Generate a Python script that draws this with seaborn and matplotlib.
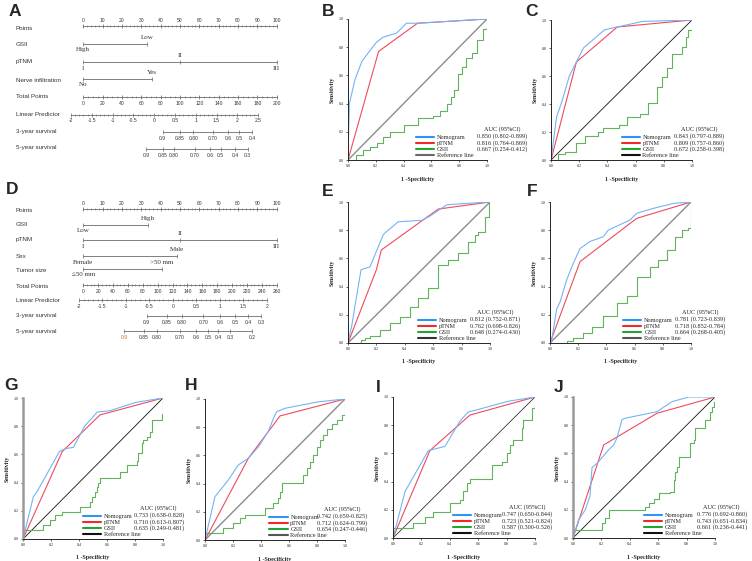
import matplotlib

matplotlib.use("Agg")
import matplotlib.pyplot as plt
from matplotlib.lines import Line2D
import numpy as np
import seaborn as sns

W, H = 752, 561

# ---------------- nomogram data ----------------
points_ticks = [0, 10, 20, 30, 40, 50, 60, 70, 80, 90, 100]

a_total_ticks = [0, 20, 40, 60, 80, 100, 120, 140, 160, 180, 200]
a_lp_labels = ["-2", "-1.5", "-1", "-0.5", "0", "0.5", "1", "1.5", "2", "2.5"]
a_lp_pts = [-6.4, 4.4, 15.1, 25.9, 36.6, 47.4, 58.2, 68.9, 79.7, 90.5]
a_s3_labels = ["0.9", "0.85", "0.80", "0.70", "0.6", "0.5", "0.4"]
a_s3_pts = [41.1, 50.0, 56.9, 66.9, 75.0, 80.7, 87.4]
a_s5_labels = ["0.9", "0.85", "0.80", "0.70", "0.6", "0.5", "0.4", "0.3"]
a_s5_pts = [32.4, 41.2, 46.9, 57.8, 65.5, 71.0, 78.4, 85.0]
a_vars = ["GSII", "pTNM", "Nerve infiltration"]
a_levels = [["High", "Low"], ["I", "II", "III"], ["No", "Yes"]]
a_level_pts = [[0, 32.9], [0, 50, 100], [0, 35.5]]

d_total_ticks = [0, 20, 40, 60, 80, 100, 120, 140, 160, 180, 200, 220, 240, 260]
d_lp_labels = ["-2", "-1.5", "-1", "-0.5", "0", "0.5", "1", "1.5", "2"]
d_lp_pts = [-2.2, 9.9, 22.0, 34.2, 46.3, 58.4, 70.6, 82.7, 94.8]
d_s3_labels = ["0.9", "0.85", "0.80", "0.70", "0.6", "0.5", "0.4", "0.3"]
d_s3_pts = [32.8, 43.1, 50.9, 62.0, 70.6, 78.4, 85.3, 91.9]
d_s5_labels = ["0.9", "0.85", "0.80", "0.70", "0.6", "0.5", "0.4", "0.3", "0.2"]
d_s5_pts = [21.0, 31.4, 38.1, 50.0, 58.3, 64.5, 69.6, 75.8, 87.3]
d_vars = ["GSII", "pTNM", "Sex", "Tumor size"]
d_levels = [["Low", "High"], ["I", "II", "III"], ["Female", "Male"], ["\u226450 mm", ">50 mm"]]
d_level_pts = [[0, 33.5], [0, 50, 100], [0, 48.4], [0, 40.7]]

# ---------------- ROC data ----------------
ref_line = [0.0, 1.0]
roc_names = ["Nomogram", "pTNM", "GSII", "Reference line"]

b_nomo_fpr = [0, 0.01, 0.05, 0.10, 0.20, 0.25, 0.35, 0.42, 0.50, 1.0]
b_nomo_tpr = [0, 0.40, 0.57, 0.70, 0.83, 0.87, 0.90, 0.97, 0.97, 1.0]
b_ptnm_fpr = [0, 0.22, 0.50, 1.0]
b_ptnm_tpr = [0, 0.77, 0.97, 1.0]
b_gsii_fpr = [0, 0.06, 0.11, 0.16, 0.21, 0.25, 0.30, 0.40, 0.50, 0.61, 0.66, 0.71, 0.74,
              0.76, 0.79, 0.82, 0.85, 0.89, 0.93, 0.97, 1.0]
b_gsii_tpr = [0, 0.035, 0.07, 0.09, 0.12, 0.16, 0.20, 0.25, 0.30, 0.31, 0.35, 0.40, 0.45,
              0.50, 0.61, 0.66, 0.72, 0.76, 0.85, 0.93, 1.0]
b_auc = ["0.850 (0.802-0.899)", "0.816 (0.764-0.869)", "0.667 (0.254-0.412)"]

c_nomo_fpr = [0, 0.04, 0.075, 0.13, 0.18, 0.23, 0.38, 0.47, 0.65, 1.0]
c_nomo_tpr = [0, 0.31, 0.41, 0.60, 0.70, 0.80, 0.93, 0.95, 0.99, 1.0]
c_ptnm_fpr = [0, 0.18, 0.47, 1.0]
c_ptnm_tpr = [0, 0.70, 0.95, 1.0]
c_gsii_fpr = [0, 0.05, 0.10, 0.18, 0.24, 0.33, 0.37, 0.48, 0.54, 0.63, 0.69, 0.75, 0.79,
              0.82, 0.86, 0.93, 0.96, 0.97, 1.0]
c_gsii_tpr = [0, 0.04, 0.06, 0.12, 0.17, 0.20, 0.23, 0.25, 0.31, 0.33, 0.41, 0.52, 0.59,
              0.66, 0.76, 0.81, 0.88, 0.93, 1.0]
c_auc = ["0.843 (0.797-0.889)", "0.809 (0.757-0.860)", "0.672 (0.258-0.398)"]

e_nomo_fpr = [0, 0.003, 0.026, 0.06, 0.092, 0.155, 0.249, 0.284, 0.354, 0.52, 0.577,
              0.636, 0.695, 0.835, 1.0]
e_nomo_tpr = [0, 0.02, 0.12, 0.33, 0.52, 0.54, 0.77, 0.80, 0.86, 0.87, 0.90,
              0.94, 0.98, 0.99, 1.0]
e_ptnm_fpr = [0, 0.20, 0.235, 0.636, 1.0]
e_ptnm_tpr = [0, 0.52, 0.66, 0.95, 1.0]
e_gsii_fpr = [0, 0.09, 0.12, 0.155, 0.225, 0.296, 0.366, 0.437, 0.495, 0.566, 0.636,
              0.707, 0.777, 0.847, 0.894, 0.918, 0.965, 0.99, 1.0]
e_gsii_tpr = [0, 0.02, 0.035, 0.047, 0.092, 0.14, 0.187, 0.258, 0.317, 0.388, 0.553,
              0.589, 0.636, 0.719, 0.766, 0.79, 0.896, 0.99, 1.0]
e_auc = ["0.812 (0.752-0.871)", "0.762 (0.698-0.826)", "0.648 (0.274-0.430)"]

f_nomo_fpr = [0, 0.012, 0.047, 0.071, 0.118, 0.165, 0.213, 0.284, 0.378, 0.414, 0.567,
              0.615, 0.733, 0.875, 1.0]
f_nomo_tpr = [0, 0.02, 0.24, 0.29, 0.447, 0.565, 0.67, 0.72, 0.754, 0.801, 0.872,
              0.92, 0.955, 0.99, 1.0]
f_ptnm_fpr = [0, 0.213, 0.615, 1.0]
f_ptnm_tpr = [0, 0.577, 0.884, 1.0]
f_gsii_fpr = [0, 0.12, 0.165, 0.236, 0.296, 0.378, 0.473, 0.544, 0.615, 0.71, 0.768,
              0.827, 0.887, 0.934, 0.98, 1.0]
f_gsii_tpr = [0, 0.015, 0.034, 0.07, 0.117, 0.188, 0.282, 0.33, 0.47, 0.54, 0.589,
              0.66, 0.754, 0.801, 0.813, 1.0]
f_auc = ["0.781 (0.723-0.839)", "0.718 (0.852-0.784)", "0.664 (0.268-0.405)"]

g_nomo_fpr = [0, 0.074, 0.10, 0.26, 0.30, 0.36, 0.44, 0.53, 0.62, 0.81, 1.0]
g_nomo_tpr = [0, 0.30, 0.335, 0.62, 0.64, 0.65, 0.80, 0.90, 0.91, 0.97, 1.0]
g_ptnm_fpr = [0, 0.28, 0.55, 1.0]
g_ptnm_tpr = [0, 0.62, 0.88, 1.0]
g_gsii_fpr = [0, 0, 0.145, 0.193, 0.229, 0.276, 0.407, 0.479, 0.49, 0.514, 0.526, 0.538,
              0.55, 0.693, 0.74, 0.812, 0.824, 0.848, 0.86, 0.883, 0.907, 0.919, 0.99, 1.0]
g_gsii_tpr = [0, 0.064, 0.10, 0.135, 0.17, 0.194, 0.23, 0.265, 0.30, 0.336, 0.371, 0.395,
              0.43, 0.478, 0.525, 0.55, 0.61, 0.68, 0.70, 0.726, 0.76, 0.844, 0.89, 1.0]
g_auc = ["0.733 (0.638-0.828)", "0.710 (0.613-0.807)", "0.635 (0.249-0.481)"]

h_nomo_fpr = [0, 0.071, 0.167, 0.238, 0.31, 0.381, 0.452, 0.488, 0.512, 0.571, 0.81, 1.0]
h_nomo_tpr = [0, 0.307, 0.426, 0.532, 0.58, 0.66, 0.77, 0.86, 0.91, 0.934, 0.98, 1.0]
h_ptnm_fpr = [0, 0.31, 0.536, 1.0]
h_ptnm_tpr = [0, 0.58, 0.88, 1.0]
h_gsii_fpr = [0, 0, 0.131, 0.202, 0.25, 0.286, 0.428, 0.488, 0.524, 0.536, 0.548, 0.702,
              0.726, 0.75, 0.774, 0.798, 0.821, 0.845, 0.869, 0.905, 0.94, 0.976, 1.0]
h_gsii_tpr = [0, 0.052, 0.083, 0.118, 0.154, 0.177, 0.225, 0.26, 0.30, 0.343, 0.402, 0.46,
              0.508, 0.556, 0.603, 0.66, 0.71, 0.745, 0.79, 0.82, 0.85, 0.887, 1.0]
h_auc = ["0.742 (0.659-0.825)", "0.712 (0.624-0.799)", "0.654 (0.247-0.446)"]

i_nomo_fpr = [0, 0.085, 0.249, 0.366, 0.472, 0.53, 0.577, 0.812, 1.0]
i_nomo_tpr = [0, 0.33, 0.62, 0.65, 0.83, 0.894, 0.905, 0.97, 1.0]
i_ptnm_fpr = [0, 0.26, 0.542, 1.0]
i_ptnm_tpr = [0, 0.62, 0.872, 1.0]
i_gsii_fpr = [0, 0, 0.143, 0.225, 0.284, 0.40, 0.472, 0.495, 0.519, 0.542, 0.695, 0.765,
              0.80, 0.824, 0.847, 0.906, 0.918, 0.976, 1.0]
i_gsii_tpr = [0, 0.068, 0.104, 0.15, 0.187, 0.245, 0.27, 0.33, 0.39, 0.42, 0.518, 0.54,
              0.60, 0.66, 0.695, 0.78, 0.837, 0.92, 1.0]
i_auc = ["0.747 (0.650-0.844)", "0.723 (0.521-0.824)", "0.587 (0.300-0.526)"]

j_nomo_fpr = [0, 0.04, 0.087, 0.12, 0.134, 0.17, 0.20, 0.25, 0.286, 0.31, 0.345, 0.37,
              0.592, 0.627, 0.697, 0.815, 1.0]
j_nomo_tpr = [0, 0.13, 0.20, 0.30, 0.50, 0.53, 0.565, 0.624, 0.66, 0.71, 0.84, 0.85,
              0.896, 0.92, 0.967, 1.0, 1.0]
j_ptnm_fpr = [0, 0.216, 0.592, 1.0]
j_ptnm_tpr = [0, 0.66, 0.885, 1.0]
j_gsii_fpr = [0, 0, 0.204, 0.228, 0.25, 0.51, 0.533, 0.568, 0.603, 0.685, 0.709, 0.72, 0.73,
              0.745, 0.827, 0.85, 0.862, 0.932, 0.967, 0.979, 0.99, 1.0]
j_gsii_tpr = [0, 0.06, 0.104, 0.139, 0.199, 0.22, 0.246, 0.28, 0.316, 0.328, 0.411, 0.47,
              0.506, 0.577, 0.671, 0.695, 0.778, 0.837, 0.896, 0.93, 0.965, 1.0]
j_auc = ["0.776 (0.692-0.860)", "0.743 (0.651-0.834)", "0.661 (0.236-0.441)"]

# ---------------- style ----------------
sns.set_theme(style="ticks")
SANS = ["Liberation Sans", "DejaVu Sans"]
SERIF = ["Liberation Serif", "DejaVu Serif"]
plt.rcParams["font.family"] = SERIF
plt.rcParams["axes.linewidth"] = 0.7

NLINE = "#6a6a6a"
NTXT = "#333333"
CURVE_COLORS = ["#74b4f2", "#ef4a5e", "#62b35c"]
LEG_COLORS = ["#2f95f0", "#f02a2a", "#22a532"]

PX0, PXS = 83.3, 1.934  # nomogram: pixel of 0 points, pixels per point


def px_rect(x0, y0, x1, y1):
    return [x0 / W, 1 - y1 / H, (x1 - x0) / W, (y1 - y0) / H]


def subdivide(pos, n):
    out = []
    for a, b in zip(pos[:-1], pos[1:]):
        out.extend(np.linspace(a, b, n + 1)[1:-1])
    return out


def tick_row(ax, y, pos, labels, dy, minor=None, colors=None):
    allpos = list(pos) + (list(minor) if minor is not None else [])
    ax.plot([min(allpos), max(allpos)], [y, y], color=NLINE, lw=0.6)
    ax.plot(pos, [y] * len(pos), ls="none", marker="|", ms=2.8, mew=0.5, color=NLINE)
    if minor is not None:
        ax.plot(minor, [y] * len(minor), ls="none", marker="|", ms=1.7, mew=0.4, color=NLINE)
    for i, (p, lab) in enumerate(zip(pos, labels)):
        c = colors[i] if colors else NTXT
        ax.text(p, y + dy, lab, ha="center", va="center", fontsize=3.6, family=SANS, color=c)


def draw_nomogram(ax, ylim, label_y, line_y, vars_, levels, level_pts, total_ticks,
                  lp_labels, lp_pts, s3_labels, s3_pts, s5_labels, s5_pts, s5_colors=None):
    ax.set_xlim(-PX0 / PXS, (300 - PX0) / PXS)
    ax.set_ylim(ylim[1], ylim[0])
    ax.axis("off")
    names = ["Points"] + vars_ + ["Total Points", "Linear Predictor",
                                  "3-year survival", "5-year survival"]
    for name, y in zip(names, label_y):
        ax.text((16 - PX0) / PXS, y, name, ha="left", va="center", fontsize=4.5,
                family=SANS, color=NTXT)

    tick_row(ax, line_y[0], points_ticks, [str(t) for t in points_ticks], -5.6,
             minor=list(range(0, 101, 2)))
    for k, (levs, pts) in enumerate(zip(levels, level_pts)):
        y = line_y[1 + k]
        ax.plot([pts[0], pts[-1]], [y, y], color=NLINE, lw=0.6)
        ax.plot(pts, [y] * len(pts), ls="none", marker="|", ms=2.8, mew=0.5, color=NLINE)
        for i, (p, lab) in enumerate(zip(pts, levs)):
            ax.text(p, y + (6.0 if i % 2 == 0 else -6.5), lab, ha="center", va="center",
                    fontsize=5.0, family=SERIF, color=NTXT)
    n = len(vars_)
    tot = np.array(total_ticks) * 100.0 / total_ticks[-1]
    tot_minor = np.arange(0, total_ticks[-1] + 1, 5) * 100.0 / total_ticks[-1]
    tick_row(ax, line_y[n + 1], tot, [str(t) for t in total_ticks], 6.5, minor=tot_minor)
    tick_row(ax, line_y[n + 2], lp_pts, lp_labels, 6.0, minor=subdivide(lp_pts, 5))
    tick_row(ax, line_y[n + 3], s3_pts, s3_labels, 6.0)
    tick_row(ax, line_y[n + 4], s5_pts, s5_labels, 6.5, colors=s5_colors)


def draw_roc(ax, nomo, ptnm, gsii, aucs, ref_color, ref_lw, leg_ref, leg_x, auc_dx,
             left_spine=None):
    sns.lineplot(x=ref_line, y=ref_line, ax=ax, color=ref_color, lw=ref_lw,
                 sort=False, estimator=None)
    sns.lineplot(x=gsii[0], y=gsii[1], ax=ax, color=CURVE_COLORS[2], lw=0.8,
                 drawstyle="steps-post", sort=False, estimator=None)
    sns.lineplot(x=ptnm[0], y=ptnm[1], ax=ax, color=CURVE_COLORS[1], lw=0.8,
                 sort=False, estimator=None)
    sns.lineplot(x=nomo[0], y=nomo[1], ax=ax, color=CURVE_COLORS[0], lw=0.8,
                 sort=False, estimator=None)
    ax.set_xlim(0, 1)
    ax.set_ylim(0, 1)
    ticks = [0.0, 0.2, 0.4, 0.6, 0.8, 1.0]
    ax.set_xticks(ticks)
    ax.set_yticks(ticks)
    ax.set_xticklabels([f"{t:.1f}" for t in ticks])
    ax.set_yticklabels([f"{t:.1f}" for t in ticks])
    ax.tick_params(labelsize=3.0, length=1.5, width=0.5, pad=1.5)
    sns.despine(ax=ax)
    ax.spines["left"].set_linewidth(0.7)
    ax.spines["bottom"].set_linewidth(0.7)
    if left_spine:
        ax.spines["left"].set_color(left_spine)
        ax.spines["left"].set_linewidth(1.8)
    ax.set_xlabel("1 -Specificity", fontsize=4.3, fontweight="bold", labelpad=6)
    ax.set_ylabel("Sensitivity", fontsize=4.3, fontweight="bold", labelpad=3)

    handles = [Line2D([], [], color=c, lw=1.5) for c in LEG_COLORS]
    handles.append(Line2D([], [], color=leg_ref, lw=1.5))
    common = dict(loc="lower left", frameon=False, borderpad=0, borderaxespad=0,
                  labelspacing=0.08, prop={"family": SERIF, "size": 4.5})
    leg1 = ax.legend(handles, roc_names, bbox_to_anchor=(leg_x, 0.015), handlelength=2.9,
                     handletextpad=0.45, **common)
    ax.add_artist(leg1)
    blanks = [Line2D([], [], ls="none") for _ in range(4)]
    leg2 = ax.legend(blanks, aucs + [""], bbox_to_anchor=(leg_x + auc_dx, 0.015),
                     handlelength=0, handletextpad=0, title="AUC (95%CI)",
                     title_fontproperties={"family": SERIF, "size": 4.5}, **common)
    leg2._legend_box.sep = 1.5


fig = plt.figure(figsize=(W / 100, H / 100), dpi=100)
fig.patch.set_facecolor("white")

# nomogram A
ax_a = fig.add_axes(px_rect(0, 0, 300, 170))
draw_nomogram(ax_a, (0, 170), [28, 45, 62, 80, 97, 114, 131, 148],
              [26, 44, 62, 79, 97, 115, 132, 149],
              a_vars, a_levels, a_level_pts, a_total_ticks, a_lp_labels, a_lp_pts,
              a_s3_labels, a_s3_pts, a_s5_labels, a_s5_pts)

# nomogram D
ax_d = fig.add_axes(px_rect(0, 170, 300, 345))
s5_colors = ["#d0701a"] + [NTXT] * (len(d_s5_labels) - 1)
draw_nomogram(ax_d, (170, 345), [211, 225, 240, 256, 270, 286, 301, 316, 331],
              [209, 225, 240, 256, 269, 285, 300, 316, 331],
              d_vars, d_levels, d_level_pts, d_total_ticks, d_lp_labels, d_lp_pts,
              d_s3_labels, d_s3_pts, d_s5_labels, d_s5_pts, s5_colors)

panels = [
    ((348, 19, 487, 160), (b_nomo_fpr, b_nomo_tpr), (b_ptnm_fpr, b_ptnm_tpr),
     (b_gsii_fpr, b_gsii_tpr), b_auc, "#8c8c8c", 1.0, "#6a6a6a", 0.49, 0.44, None),
    ((551, 20, 692, 160), (c_nomo_fpr, c_nomo_tpr), (c_ptnm_fpr, c_ptnm_tpr),
     (c_gsii_fpr, c_gsii_tpr), c_auc, "#111111", 0.6, "#111111", 0.50, 0.37, None),
    ((348, 202, 490, 343), (e_nomo_fpr, e_nomo_tpr), (e_ptnm_fpr, e_ptnm_tpr),
     (e_gsii_fpr, e_gsii_tpr), e_auc, "#8c8c8c", 1.0, "#333333", 0.49, 0.37, None),
    ((550, 202, 691, 343), (f_nomo_fpr, f_nomo_tpr), (f_ptnm_fpr, f_ptnm_tpr),
     (f_gsii_fpr, f_gsii_tpr), f_auc, "#8c8c8c", 1.0, "#555555", 0.52, 0.37, None),
    ((23, 398, 163, 539), (g_nomo_fpr, g_nomo_tpr), (g_ptnm_fpr, g_ptnm_tpr),
     (g_gsii_fpr, g_gsii_tpr), g_auc, "#111111", 0.6, "#111111", 0.43, 0.36, "#9a9a9a"),
    ((205, 399, 345, 540), (h_nomo_fpr, h_nomo_tpr), (h_ptnm_fpr, h_ptnm_tpr),
     (h_gsii_fpr, h_gsii_tpr), h_auc, "#8c8c8c", 1.0, "#555555", 0.46, 0.34, None),
    ((393, 397, 535, 538), (i_nomo_fpr, i_nomo_tpr), (i_ptnm_fpr, i_ptnm_tpr),
     (i_gsii_fpr, i_gsii_tpr), i_auc, "#333333", 0.6, "#111111", 0.42, 0.35, None),
    ((573, 397, 715, 538), (j_nomo_fpr, j_nomo_tpr), (j_ptnm_fpr, j_ptnm_tpr),
     (j_gsii_fpr, j_gsii_tpr), j_auc, "#111111", 0.6, "#111111", 0.50, 0.37, "#9a9a9a"),
]
for rect, nomo, ptnm, gsii, aucs, rc, rlw, lref, lx, adx, lsp in panels:
    ax = fig.add_axes(px_rect(*rect))
    draw_roc(ax, nomo, ptnm, gsii, aucs, rc, rlw, lref, lx, adx, lsp)

panel_letters = ["A", "B", "C", "D", "E", "F", "G", "H", "I", "J"]
letter_xy = [(15, 12), (328, 12), (531, 12), (12, 190), (328, 191), (532, 191),
             (11, 386), (191, 386), (378, 387), (559, 387)]
for lab, (x, y) in zip(panel_letters, letter_xy):
    fig.text(x / W, 1 - y / H, lab, ha="center", va="center", fontsize=12.5,
             fontweight="bold", family=SANS)

fig.savefig("out.png", dpi=100)
